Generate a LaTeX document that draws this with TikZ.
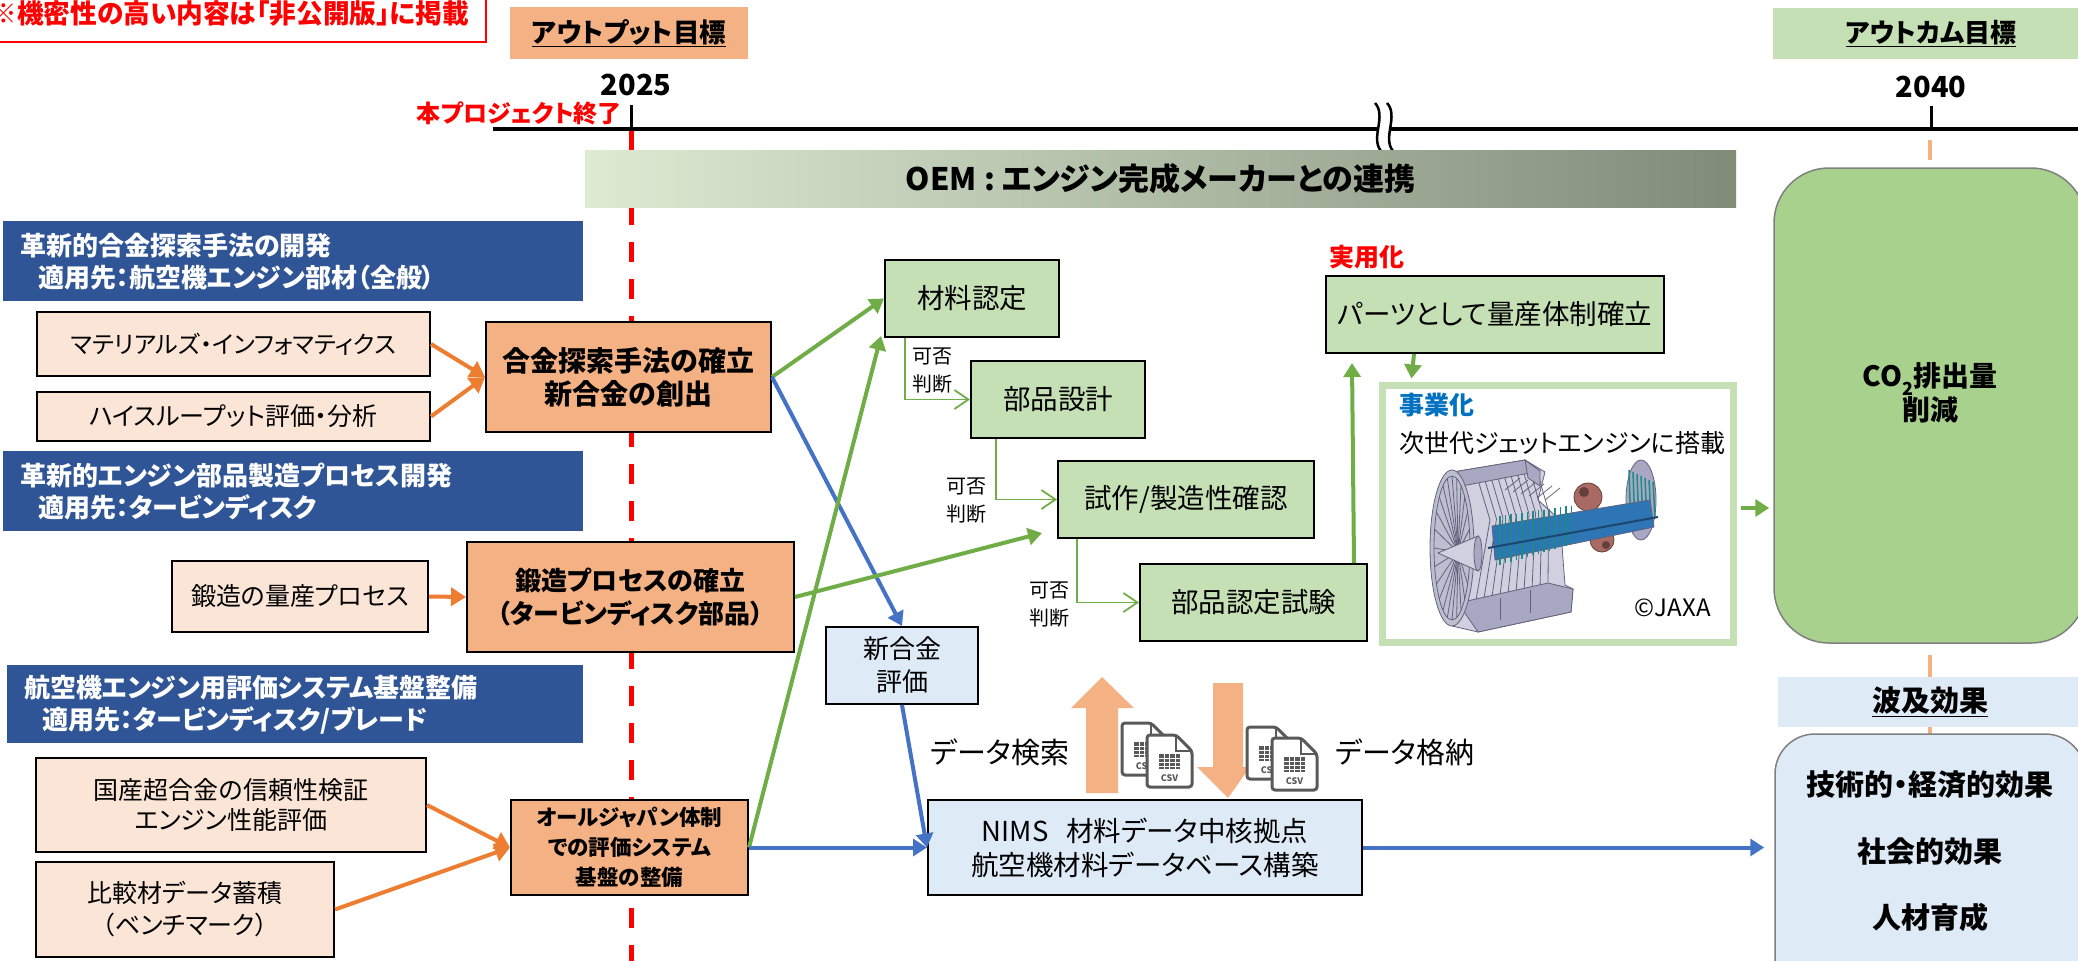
\documentclass[tikz,border=0pt]{standalone}
\usepackage{fontspec}
\setmainfont{Noto Sans CJK JP}[RawFeature=+palt]
\usetikzlibrary{arrows.meta,fit,calc}

\definecolor{hdrblue}{HTML}{2F5597}
\definecolor{lorange}{HTML}{FBE5D6}
\definecolor{orng}{HTML}{F4B183}
\definecolor{lgreen}{HTML}{C5E0B4}
\definecolor{lblue}{HTML}{DEEBF7}
\definecolor{arrorange}{HTML}{ED7D31}
\definecolor{arrgreen}{HTML}{70AD47}
\definecolor{arrblue}{HTML}{4472C4}
\definecolor{biggreen}{HTML}{A9D18E}
\definecolor{boxgray}{HTML}{7F7F7F}
\definecolor{oemL}{HTML}{DDEBD3}
\definecolor{oemR}{HTML}{818C78}
\definecolor{jigblue}{HTML}{0070C0}
\definecolor{icongray}{HTML}{595959}
\definecolor{engB}{HTML}{A8A8C2}
\definecolor{engL}{HTML}{D0D0E0}
\definecolor{engD}{HTML}{62627C}
\definecolor{coreblue}{HTML}{2E75B6}
\definecolor{engteal}{HTML}{1D8A8A}
\definecolor{burn}{HTML}{A86A63}

\newcommand{\fsz}[2]{\fontsize{#1}{#2}\selectfont}
% box given by its corners: name, style, x1, y1, x2, y2, text
\newcommand{\boxnode}[7]{%
  \node[#2, minimum width={(#5)-(#3)}, minimum height={(#6)-(#4)}] (#1)
    at ({((#3)+(#5))/2},{((#4)+(#6))/2}) {#7};}

\tikzset{
  base/.style={inner sep=0pt, align=center},
  frame/.style={base, draw=black, line width=2pt},
  lobox/.style={frame, fill=lorange, font=\fsz{25}{31}},
  obox/.style={frame, fill=orng, font=\bfseries\fsz{27}{33}},
  gbox/.style={frame, fill=lgreen, font=\fsz{27.5}{32}},
  bbox/.style={frame, fill=lblue, font=\fsz{27.5}{34}},
  hdrbox/.style={base, fill=hdrblue},
  hdrtext/.style={base, anchor=west, text=white, font=\bfseries\fsz{26}{32}, align=left},
  oarr/.style={draw=arrorange, line width=4pt, -{Triangle[length=15pt,width=18pt]}},
  garr/.style={draw=arrgreen, line width=4pt, -{Triangle[length=14pt,width=17pt]}},
  barr/.style={draw=arrblue, line width=4pt, -{Triangle[length=14pt,width=17pt]}},
  tarr/.style={draw=arrgreen, line width=1.8pt, -{Straight Barb[length=14pt,width=19pt]}},
  judge/.style={base, font=\fsz{20}{28}, align=left},
  csvdoc/.pic={
    \filldraw[fill=white, draw=icongray, line width=3pt, rounded corners=3pt]
      (0,0) -- (29,0) -- (45,16) -- (45,52) -- (0,52) -- cycle;
    \draw[icongray, line width=2.5pt] (29,0) -- (29,16) -- (45,16);
    \fill[icongray] (12,19) rectangle (33,34);
    \foreach \yy in {23,27,31} \draw[white, line width=1pt] (12,\yy) -- (33,\yy);
    \foreach \xx in {17,22,28} \draw[white, line width=1pt] (\xx,19) -- (\xx,34);
    \node[base, text=icongray, font=\bfseries\fsz{9}{10}] (-t) at (22.5,43) {CSV};
  }
}

\begin{document}
\begin{tikzpicture}[x=1pt,y=-1pt]
\useasboundingbox (0,0) rectangle (2078,961);

% ---- timeline ----
\draw[red, line width=5pt, dash pattern=on 20pt off 17pt] (631,131) -- (631,961);
\draw[line width=4.5pt] (493,129) -- (1378,129);
\draw[line width=4.5pt] (1391,129) -- (2090,129);
\draw[line width=2.5pt] (1375,103) .. controls (1387,116) and (1370,138) .. (1381,151);
\draw[line width=2.5pt] (1387,103) .. controls (1399,116) and (1382,138) .. (1393,151);
\draw[line width=3pt] (631,105) -- (631,129);
\draw[line width=3pt] (1931,106) -- (1931,129);
\draw[orng, line width=4pt] (1930,140) -- (1930,160);
\draw[orng, line width=4pt] (1930,655) -- (1930,734);

% ---- titles ----
\node[base, fill=white, draw=red, line width=2pt, anchor=south east, minimum height=56pt,
      inner xsep=17pt, text=red, font=\bfseries\fsz{26.7}{30}] (secret) at (487,43)
      {※機密性の高い内容は「非公開版」に掲載};
\boxnode{outlbl}{base, fill=orng, font=\bfseries\fsz{26.5}{30}}{510}{7}{748}{59}{\underline{アウトプット目標}}
\boxnode{outclbl}{base, fill=lgreen, font=\bfseries\fsz{26}{30}}{1773}{8}{2089}{59}{\underline{アウトカム目標}}
\node[base, font=\bfseries\fsz{29}{30}] (y2025) at (636,85) {2025};
\node[base, font=\bfseries\fsz{29}{30}] (y2040) at (1931,87) {2040};
\node[base, anchor=east, text=red, font=\bfseries\fsz{24}{28}] (pend) at (622,113) {本プロジェクト終了};

\boxnode{oem}{base, left color=oemL, right color=oemR, font=\bfseries\fsz{31}{34}}{585}{150}{1736}{207}
  {OEM\hspace{7pt}:\hspace{7pt}エンジン完成メーカーとの連携}

% ---- theme headers ----
\boxnode{h1}{hdrbox}{3}{221}{583}{301}{}
\node[hdrtext] (h1t) at (20,262)
  {革新的合金探索手法の開発\\\hspace*{18pt}適用先：航空機エンジン部材（全般）};
\boxnode{h2}{hdrbox}{3}{451}{583}{531}{}
\node[hdrtext] (h2t) at (20,492)
  {革新的エンジン部品製造プロセス開発\\\hspace*{18pt}適用先：タービンディスク};
\boxnode{h3}{hdrbox}{7}{665}{583}{743}{}
\node[hdrtext] (h3t) at (24,705)
  {航空機エンジン用評価システム基盤整備\\\hspace*{18pt}適用先：タービンディスク/ブレード};

% ---- inputs ----
\boxnode{mi}{lobox, font=\fsz{24}{31}}{37}{312}{430}{376}{マテリアルズ・インフォマティクス}
\boxnode{hts}{lobox}{37}{392}{430}{441}{ハイスループット評価・分析}
\boxnode{tzr}{lobox}{172}{561}{428}{632}{鍛造の量産プロセス}
\boxnode{kok}{lobox, font=\fsz{25}{30}}{36}{758}{426}{852}{国産超合金の信頼性検証\\エンジン性能評価}
\boxnode{hik}{lobox, font=\fsz{25}{32}}{36}{862}{334}{957}{比較材データ蓄積\\（ベンチマーク）}

% ---- outputs ----
\boxnode{alloy}{obox, font=\bfseries\fsz{28}{33}}{486}{322}{771}{432}{合金探索手法の確立\\新合金の創出}
\boxnode{tanzo}{obox, font=\bfseries\fsz{26}{33}}{467}{542}{794}{652}{鍛造プロセスの確立\\（タービンディスク部品）}
\boxnode{allj}{obox, font=\bfseries\fsz{21.5}{30}}{511}{800}{748}{895}{オールジャパン体制\\での評価システム\\基盤の整備}

% ---- certification steps ----
\boxnode{zairyo}{gbox}{885}{260}{1059}{337}{材料認定}
\boxnode{buhin}{gbox}{971}{361}{1145}{438}{部品設計}
\boxnode{shisaku}{gbox}{1058}{461}{1314}{538}{試作/製造性確認}
\boxnode{bnt}{gbox}{1140}{564}{1367}{641}{部品認定試験}
\boxnode{parts}{gbox}{1326}{276}{1664}{353}{パーツとして量産体制確立}
\node[base, anchor=west, text=red, font=\bfseries\fsz{25}{30}] (jitsu) at (1329,257) {実用化};

\node[judge] (j1) at (932,371) {可否\\判断};
\node[judge] (j2) at (966,501) {可否\\判断};
\node[judge] (j3) at (1049,605) {可否\\判断};

% ---- evaluation and database ----
\boxnode{shin}{bbox, font=\fsz{26}{33}}{826}{627}{978}{704}{新合金\\評価}
\boxnode{nims}{bbox}{928}{800}{1362}{895}{NIMS\hspace{18pt}材料データ中核拠点\\航空機材料データベース構築}

\node[base, font=\fsz{29}{32}] (dsearch) at (1000,752) {データ検索};
\node[base, font=\fsz{29}{32}] (dstore) at (1405,752) {データ格納};
\fill[orng] (1086,793) -- (1086,708) -- (1071,708) -- (1102,677) -- (1134,708) -- (1118,708) -- (1118,793) -- cycle;
\fill[orng] (1213,683) -- (1243,683) -- (1243,767) -- (1250,767) -- (1228,798) -- (1197,767) -- (1213,767) -- cycle;
\pic (csvAb) at (1122,723) {csvdoc};
\pic (csvAf) at (1147,735) {csvdoc};
\pic (csvBb) at (1247,727) {csvdoc};
\pic (csvBf) at (1272,738) {csvdoc};

% ---- commercialisation ----
\boxnode{jig}{base, fill=white, draw=lgreen, line width=7pt}{1382.5}{385.5}{1733.5}{642.5}{}
\node[base, anchor=west, text=jigblue, font=\bfseries\fsz{25}{30}] (jigt) at (1399,405) {事業化};
\node[base, anchor=west, font=\fsz{25}{30}] (jigs) at (1399,443) {次世代ジェットエンジンに搭載};

% jet engine cut-away
\begin{scope}[line width=0.8pt, draw=engD]
  % exhaust turbine
  \filldraw[fill=engB] (1641,500) ellipse [x radius=15, y radius=40];
  \foreach \k in {0,...,6} \draw[engteal, line width=1.5pt] ({1629+4*\k},{470+2*\k}) -- ({1631+4*\k},{530-2*\k});
  % fan case and blades seen through the cut
  \filldraw[fill=engL] (1447,473) -- (1525,460) -- (1545,472) -- (1538,500) -- (1560,520)
        -- (1565,585) -- (1573,589) -- (1571,612) -- (1478,632) -- (1452,626) -- cycle;
  \foreach \k in {0,...,9} \draw ({1478+6.5*\k},{480-1.2*\k}) -- ({1490+6.5*\k},{520-1*\k}) -- ({1476+8*\k},{600-1.6*\k});
  \foreach \k in {0,...,5} \draw ({1505+8*\k},{490+2*\k}) -- ({1520+8*\k},{478+2*\k});
  % nacelle bands
  \filldraw[fill=engB] (1447,473) -- (1525,460) -- (1540,471) -- (1462,486) -- cycle;
  \filldraw[fill=engB] (1525,460) -- (1540,471) -- (1540,486) -- (1528,478) -- cycle;
  \filldraw[fill=engB] (1458,603) -- (1548,583) -- (1573,589) -- (1571,612) -- (1478,632) -- cycle;
  \draw (1500,620) -- (1500,598);
  \draw (1530,613) -- (1530,590);
  % combustor
  \filldraw[fill=burn, draw=burn!60!black] (1588,497) circle (14);
  \filldraw[fill=burn, draw=burn!60!black] (1602,540) circle (12);
  % core
  \filldraw[fill=coreblue] (1492,526) -- (1650,500) -- (1654,527) -- (1495,560) -- cycle;
  \foreach \k in {0,...,13} \draw[engteal, line width=1.8pt] ({1500+5.5*\k},{516-0.8*\k}) -- ({1500+5.5*\k},{565-1.6*\k});
  \draw[coreblue!60!black, line width=2pt] (1488,548) -- (1658,517);
  \fill[burn!60!black] (1584,492) circle (5);
  \fill[burn!60!black] (1606,545) circle (4);
  % fan face
  \filldraw[fill=engB!75!white] (1452,548) ellipse [x radius=22, y radius=78];
  \draw (1452,548) ellipse [x radius=18, y radius=72];
  \foreach \a in {0,15,...,345} \draw (1458,552) -- ({1452+18*cos(\a)},{548+72*sin(\a)});
  % spinner
  \filldraw[fill=engL] (1438,553) -- (1478,536) -- (1478,571) -- cycle;
  \filldraw[fill=engB] (1478,553.5) ellipse [x radius=4, y radius=17.5];
\end{scope}
\node[base, anchor=east, font=\fsz{24}{28}] (jaxa) at (1711,608) {©JAXA};

% ---- outcome ----
\boxnode{co2}{base, fill=biggreen, draw=boxgray, line width=1.5pt, rounded corners=55pt}{1774}{168}{2086}{643}{}
\node[base, font=\bfseries\fsz{28}{34}] (co2t) at (1930,393) {CO\raisebox{-0.3em}{\fsz{18}{18}2}排出量\\削減};
\boxnode{hakyu}{base, fill=lblue, font=\bfseries\fsz{29}{30}}{1778}{677}{2082}{727}{\underline{波及効果}}
\boxnode{effects}{base, fill=lblue, draw=boxgray, line width=1.5pt, rounded corners=40pt}{1775}{734}{2085}{1000}{}
\node[base, font=\bfseries\fsz{29}{66.5}] (efft) at (1930,851.5) {技術的・経済的効果\\社会的効果\\人材育成};

% ---- connectors ----
\draw[oarr] (mi.east) -- (alloy.west);
\draw[oarr] (hts.east) -- (alloy.west);
\draw[oarr] (tzr.east) -- (tanzo.west);
\draw[oarr] (kok.east) -- (allj.west);
\draw[oarr] (hik.east) -- (allj.west);

\draw[garr] (alloy.east) -- (zairyo.west);
\draw[barr] (alloy.east) -- (shin.north);
\draw[garr] (allj.east) -- ($(zairyo.south west)+(-3,-2)$);
\draw[garr] (tanzo.east) -- ($(shisaku.south west)+(-15,-6)$);
\draw[barr] (allj.east) -- (nims.west);
\draw[barr] (shin.south) -- (nims.west);
\draw[barr] (nims.east) -- ($(nims.east -| effects.west)+(-10,0)$);

\draw[tarr] ($(zairyo.south west)+(21,0)$) |- (buhin.west);
\draw[tarr] ($(buhin.south west)+(26,0)$) |- (shisaku.west);
\draw[tarr] ($(shisaku.south west)+(20,0)$) |- (bnt.west);

\draw[garr] ($(bnt.north east)+(-14,0)$) -- ($(parts.south west)+(27,9)$);
\draw[garr] ($(parts.south west)+(89,0)$) -- ($(jig.north west)+(32.5,-3.5)$);
\draw[garr] ($(jig.east)+(3.5,-6)$) -- ($(jig.east -| co2.west)+(-4,-6)$);

\end{tikzpicture}
\end{document}
